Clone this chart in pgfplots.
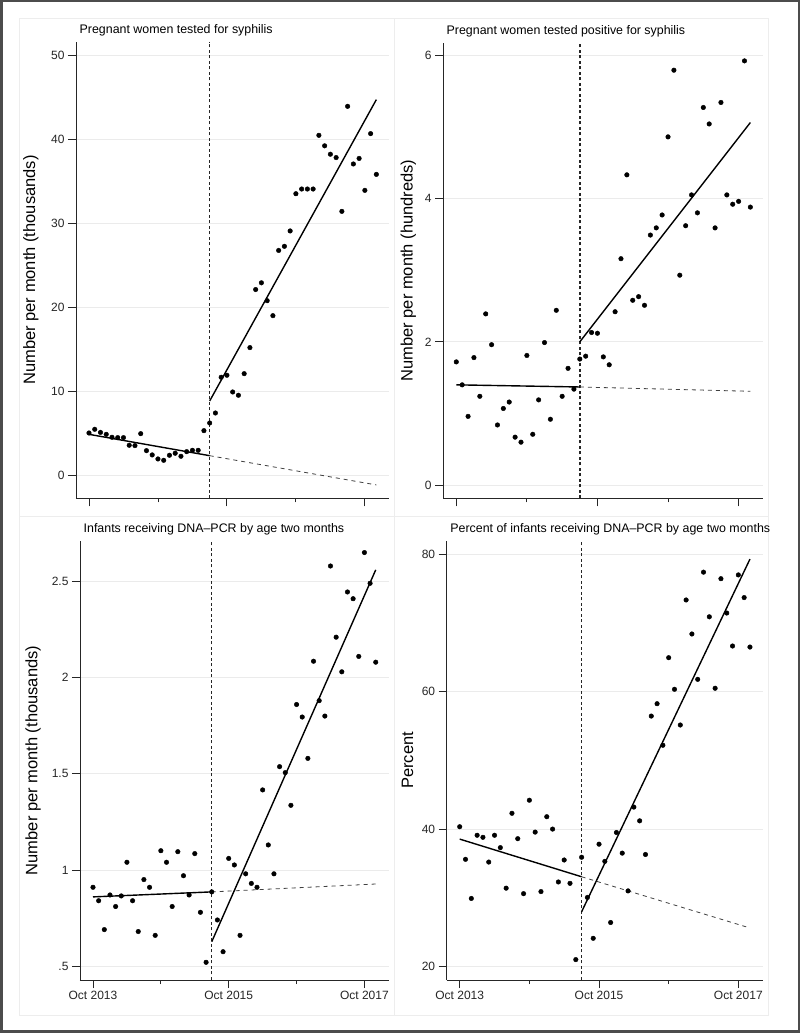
\documentclass[border=0pt]{standalone}
\usepackage{fontspec}
\setmainfont{Liberation Sans}
\usepackage{pgfplots}
\usepackage{pgfplotstable}
\pgfplotsset{compat=1.18}

% months since Oct 2013 (0 = Oct 2013, 24 = Oct 2015, 48 = Oct 2017)
\pgfplotstableread{
x y
0 5.03
1 5.47
2 5.10
3 4.87
4 4.52
5 4.48
6 4.48
7 3.57
8 3.53
9 4.95
10 2.93
11 2.42
12 1.94
13 1.78
14 2.38
15 2.62
16 2.26
17 2.81
18 2.97
19 2.97
20 5.31
21 6.22
22 7.41
23 11.66
24 11.90
25 9.91
26 9.52
27 12.09
28 15.19
29 22.10
30 22.90
31 20.77
32 18.99
33 26.75
34 27.24
35 29.07
36 33.50
37 34.06
38 34.06
39 34.06
40 40.45
41 39.20
42 38.20
43 37.80
44 31.40
45 43.90
46 37.04
47 37.70
48 33.90
49 40.65
50 35.80
}\tested

\pgfplotstableread{
x y
0 1.72
1 1.40
2 0.96
3 1.78
4 1.24
5 2.39
6 1.96
7 0.84
8 1.07
9 1.16
10 0.67
11 0.60
12 1.81
13 0.71
14 1.19
15 1.99
16 0.92
17 2.44
18 1.24
19 1.63
20 1.34
21 1.76
22 1.80
23 2.13
24 2.12
25 1.79
26 1.68
27 2.42
28 3.16
29 4.33
30 2.58
31 2.63
32 2.51
33 3.49
34 3.59
35 3.77
36 4.86
37 5.79
38 2.93
39 3.62
40 4.05
41 3.80
42 5.27
43 5.04
44 3.59
45 5.34
46 4.05
47 3.92
48 3.96
49 5.92
50 3.88
}\positive

\pgfplotstableread{
x y
0 0.91
1 0.84
2 0.69
3 0.87
4 0.81
5 0.865
6 1.04
7 0.84
8 0.68
9 0.95
10 0.91
11 0.66
12 1.10
13 1.04
14 0.81
15 1.095
16 0.97
17 0.87
18 1.085
19 0.78
20 0.52
21 0.886
22 0.74
23 0.575
24 1.06
25 1.026
26 0.66
27 0.98
28 0.93
29 0.91
30 1.416
31 1.13
32 0.98
33 1.537
34 1.506
35 1.336
36 1.86
37 1.795
38 1.58
39 2.085
40 1.88
41 1.80
42 2.58
43 2.21
44 2.03
45 2.445
46 2.41
47 2.11
48 2.65
49 2.49
50 2.08
}\pcr

\pgfplotstableread{
x y
0 40.34
1 35.6
2 29.9
3 39.1
4 38.8
5 35.2
6 39.1
7 37.3
8 31.4
9 42.3
10 38.6
11 30.6
12 44.2
13 39.56
14 30.9
15 41.8
16 40.0
17 32.3
18 35.5
19 32.1
20 21.0
21 35.9
22 30.05
23 24.1
24 37.8
25 35.3
26 26.4
27 39.5
28 36.5
29 31.0
30 43.2
31 41.2
32 36.3
33 56.45
34 58.25
35 52.2
36 64.95
37 60.35
38 55.15
39 73.35
40 68.4
41 61.8
42 77.4
43 70.9
44 60.5
45 76.45
46 71.45
47 66.65
48 77.0
49 73.7
50 66.5
}\pcrpct

\pgfplotsset{
  panel/.style={
    scale only axis, anchor=south west,
    axis x line*=bottom, axis y line*=left,
    axis line style={-, draw=black!85, line width=0.9pt},
    xmin=-2.26, xmax=52.2,
    xtick={0,24,48}, minor xtick={12,36},
    xticklabels={Oct 2013, Oct 2015, Oct 2017},
    tick align=outside, major tick length=8pt, minor tick length=4pt,
    tick style={draw=black!85, line width=0.9pt},
    ymajorgrids, grid style={draw=black!8, line width=0.9pt},
    /pgf/number format/assume math mode=true,
    tick label style={font=\fontsize{12}{14}\selectfont, text=black!85},
    every axis title shift=0pt,
    title style={at={(axis description cs:0,1)}, anchor=base west,
      xshift=3.5pt, yshift=8pt, inner sep=0pt,
      font=\fontsize{12.4}{14}\selectfont},
    ylabel style={anchor=center, font=\fontsize{16.5}{19}\selectfont},
  },
  pts/.style={only marks, mark=*, mark size=2.3pt, black},
  fit/.style={black, line width=1.4pt, no marks},
  proj/.style={black!75, line width=0.8pt, dash pattern=on 4pt off 4pt, no marks},
  cut/.style={black!85, line width=1.4pt, dash pattern=on 3pt off 2.5pt, no marks},
}

\begin{document}
\begin{tikzpicture}
\useasboundingbox (0pt,0pt) rectangle (800pt,1033pt);
\fill[white] (0pt,0pt) rectangle (800pt,1033pt);
% panel frames
\draw[black!7, line width=0.9pt] (19pt,517pt) rectangle (394pt,1015pt);
\draw[black!7, line width=0.9pt] (394pt,517pt) rectangle (768pt,1015pt);
\draw[black!7, line width=0.9pt] (19pt,18pt) rectangle (394pt,517pt);
\draw[black!7, line width=0.9pt] (394pt,18pt) rectangle (768pt,517pt);

% top left
\begin{axis}[panel, at={(76pt,534.7pt)}, width=313pt, height=456.6pt,
  ymin=-2.74, ymax=51.59, ytick={0,10,20,30,40,50},
  xticklabels={},
  title={Pregnant women tested for syphilis},
  ylabel={Number per month (thousands)},
  ylabel style={at={(axis description cs:-0.144,0.5)}}]
\addplot[cut] coordinates {(21,-2.74) (21,51.59)};
\addplot[proj] coordinates {(21,2.33) (50,-1.15)};
\addplot[fit] coordinates {(0,4.87) (21,2.33)};
\addplot[fit] coordinates {(21,8.84) (50,44.7)};
\addplot[pts] table {\tested};
\end{axis}

% top right
\begin{axis}[panel, at={(443pt,534.7pt)}, width=320.3pt, height=455.6pt,
  ymin=-0.183, ymax=6.174, ytick={0,2,4,6},
  xticklabels={},
  title={Pregnant women tested positive for syphilis},
  ylabel={Number per month (hundreds)},
  ylabel style={at={(axis description cs:-0.108,0.5)}}]
\addplot[cut] coordinates {(21,-0.183) (21,6.174)};
\addplot[proj] coordinates {(21,1.37) (50,1.31)};
\addplot[fit] coordinates {(0,1.40) (21,1.37)};
\addplot[fit] coordinates {(21,2.0) (50,5.06)};
\addplot[pts] table {\positive};
\end{axis}

% bottom left
\begin{axis}[panel, at={(80pt,53pt)}, width=309.3pt, height=439pt,
  xmin=-2.3, xmax=52.4,
  ymin=0.428, ymax=2.71, ytick={0.5,1,1.5,2,2.5},
  yticklabels={.5,1,1.5,2,2.5},
  title={Infants receiving DNA--PCR by age two months},
  ylabel={Number per month (thousands)},
  ylabel style={at={(axis description cs:-0.152,0.5)}}]
\addplot[cut] coordinates {(21,0.428) (21,2.71)};
\addplot[proj] coordinates {(21,0.886) (50,0.927)};
\addplot[fit] coordinates {(0,0.86) (21,0.886)};
\addplot[fit] coordinates {(21,0.627) (50,2.56)};
\addplot[pts] table {\pcr};
\end{axis}

% bottom right
\begin{axis}[panel, at={(446.7pt,53pt)}, width=316.6pt, height=439.3pt,
  xmin=-2.24, xmax=52.3,
  ymin=18.03, ymax=81.98, ytick={20,40,60,80},
  title={Percent of infants receiving DNA--PCR by age two months},
  ylabel={Percent},
  ylabel style={at={(axis description cs:-0.124,0.5)}}]
\addplot[cut] coordinates {(21,18.03) (21,81.98)};
\addplot[proj] coordinates {(21,33.06) (50,25.6)};
\addplot[fit] coordinates {(0,38.54) (21,33.06)};
\addplot[fit] coordinates {(21,27.96) (50,79.3)};
\addplot[pts] table {\pcrpct};
\end{axis}

% outer frame
\draw[black!70, line width=2.5pt] (1.25pt,1.25pt) rectangle (798.75pt,1031.75pt);
\end{tikzpicture}
\end{document}
